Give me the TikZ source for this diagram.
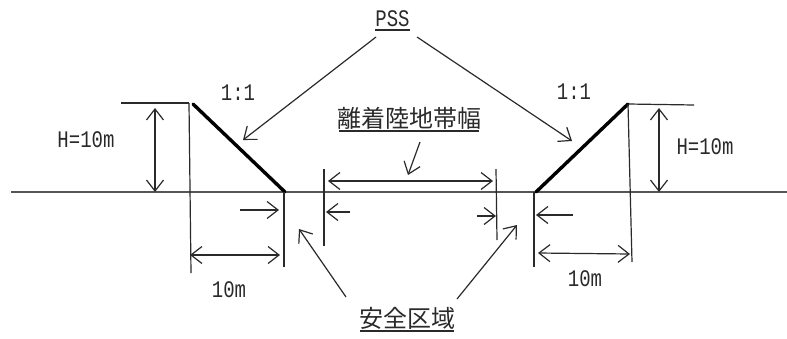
\documentclass[tikz,border=0pt]{standalone}
\usepackage{graphicx}
\usepackage{fontspec}
\setmainfont{Liberation Mono}
\newfontfamily\cjk{Noto Sans CJK JP}
\usetikzlibrary{arrows.meta}
\definecolor{ink}{HTML}{2A2A2A}
\newcommand{\talltext}[1]{\scalebox{1}[1.25]{#1}}
\tikzset{
  line/.style={draw=ink,line width=1.2pt},
  ground/.style={draw=ink!80,line width=1.4pt},
  slope/.style={draw=black,line width=3.4pt,line cap=round},
  lead/.style={draw=ink,line width=1.2pt,-{Straight Barb[length=11pt,width=17pt,line width=1.2pt]}},
  dim/.style={draw=ink,line width=1.2pt,{Straight Barb[length=11pt,width=17pt,line width=1.2pt]}-{Straight Barb[length=11pt,width=17pt,line width=1.2pt]}},
  lab/.style={text=ink,inner sep=0pt,font=\fontsize{19}{19}\selectfont},
  cjklab/.style={text=ink,inner sep=0pt,font=\cjk\fontsize{24}{24}\selectfont},
  rule/.style={draw=ink,line width=1.2pt}
}
\begin{document}
\begin{tikzpicture}[x=1pt,y=-1pt]
\useasboundingbox (0,0) rectangle (787,338);
% labels
\node[lab] (pss) at (392.5,19) {\talltext{PSS}};
\node[cjklab] (width) at (409,118) {離着陸地帯幅};
\node[cjklab] (safe) at (407,318) {安全区域};
\node[lab] (hl) at (86,140) {\talltext{H=10m}};
\node[lab] (hr) at (705,147) {\talltext{H=10m}};
\node[lab] (sl) at (238,93) {\talltext{1:1}};
\node[lab] (sr) at (574,92) {\talltext{1:1}};
\node[lab] (dl) at (229,290) {\talltext{10m}};
\node[lab] (dr) at (585,279) {\talltext{10m}};
% underlines
\coordinate (pssA) at (375,30); \coordinate (pssB) at (410,30);
\coordinate (wA) at (339,131); \coordinate (wB) at (479,131);
\coordinate (sA) at (360,331); \coordinate (sB) at (454,331);
\draw[rule] (pssA) -- (pssB);
\draw[rule] (wA) -- (wB);
\draw[rule] (sA) -- (sB);
% terrain points
\coordinate (gA) at (11,192); \coordinate (gB) at (787,192);
\coordinate (clA) at (121,103); \coordinate (clB) at (189,103);
\coordinate (slA) at (193,104); \coordinate (slB) at (285,192);
\coordinate (crA) at (628,104); \coordinate (crB) at (694,105);
\coordinate (srB) at (536,192);
\draw[ground] (gA) -- (gB);
\draw[line] (clA) -- (clB);
\draw[line] (crA) -- (crB);
\draw[slope] (slA) -- (slB);
\draw[slope] (crA) -- (srB);
% verticals
\coordinate (v1b) at (191,273); \coordinate (v2a) at (284,192); \coordinate (v2b) at (284,267);
\coordinate (v3a) at (324,169); \coordinate (v3b) at (324,246);
\coordinate (v4a) at (496,169); \coordinate (v4b) at (497,240);
\coordinate (v5a) at (534,192); \coordinate (v5b) at (534,267);
\coordinate (v6b) at (632,262);
\draw[line] (clB) -- (v1b);
\draw[line] (v2a) -- (v2b);
\draw[line] (v3a) -- (v3b);
\draw[line] (v4a) -- (v4b);
\draw[line] (v5a) -- (v5b);
\draw[line] (crA) -- (v6b);
% dimension arrows
\coordinate (hlA) at (155,108); \coordinate (hlB) at (155,192);
\coordinate (hrA) at (659,108); \coordinate (hrB) at (659,192);
\coordinate (dlA) at (190,255); \coordinate (dlB) at (280,255);
\coordinate (drA) at (538,253); \coordinate (drB) at (630,254);
\coordinate (mA) at (328,181); \coordinate (mB) at (493,181);
\draw[dim] (hlA) -- (hlB);
\draw[dim] (hrA) -- (hrB);
\draw[dim] (dlA) -- (dlB);
\draw[dim] (drA) -- (drB);
\draw[dim] (mA) -- (mB);
% leaders
\coordinate (p1) at (376,37); \coordinate (p1e) at (243,140);
\coordinate (p2) at (417,37); \coordinate (p2e) at (572,141);
\coordinate (w1) at (420,142); \coordinate (w1e) at (408,175);
\coordinate (s1) at (346,297); \coordinate (s1e) at (299,229);
\coordinate (s2) at (457,299); \coordinate (s2e) at (517,225);
\draw[lead] (p1) -- (p1e);
\draw[lead] (p2) -- (p2e);
\draw[lead] (w1) -- (w1e);
\draw[lead] (s1) -- (s1e);
\draw[lead] (s2) -- (s2e);
% clearance arrows
\coordinate (a1) at (240,210); \coordinate (a1e) at (279,210);
\coordinate (a2) at (350,212); \coordinate (a2e) at (326,212);
\coordinate (a3) at (477,216); \coordinate (a3e) at (496,216);
\coordinate (a4) at (573,215); \coordinate (a4e) at (536,215);
\draw[lead] (a1) -- (a1e);
\draw[lead] (a2) -- (a2e);
\draw[lead] (a3) -- (a3e);
\draw[lead] (a4) -- (a4e);
\end{tikzpicture}
\end{document}
